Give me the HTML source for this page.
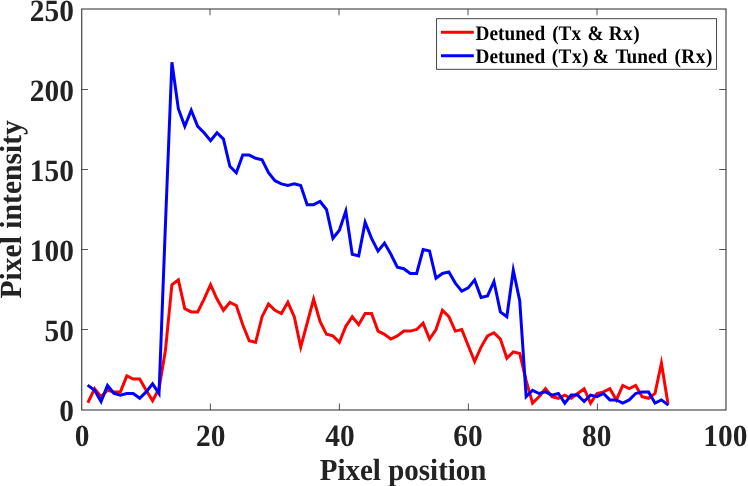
<!DOCTYPE html>
<html><head><meta charset="utf-8"><title>Pixel intensity</title>
<style>
html,body{margin:0;padding:0;background:#fff;}
body{width:748px;height:486px;overflow:hidden;}
svg{display:block;text-rendering:geometricPrecision;font-family:"Liberation Serif",serif;font-weight:bold;}
</style></head><body>
<svg width="748" height="486" viewBox="0 0 748 486">
<rect width="748" height="486" fill="#fff"/>
<g fill="none" stroke-linejoin="miter" stroke-miterlimit="10" stroke-width="3">
<polyline stroke="#ff0000" points="87.87,402.77 94.61,388.70 101.05,396.70 107.49,390.30 113.94,391.90 120.38,391.90 126.82,375.90 133.26,379.10 139.70,379.10 146.14,390.30 152.58,400.70 159.02,388.70 165.46,350.30 171.90,284.70 178.34,279.90 184.79,308.70 191.23,311.90 197.67,311.90 204.11,299.10 210.55,284.70 216.99,299.10 223.43,310.30 229.87,302.30 236.31,305.50 242.75,324.70 249.20,340.70 255.64,342.30 262.08,316.70 268.52,303.90 274.96,310.30 281.40,313.50 287.84,302.30 294.28,316.70 300.72,347.10 307.17,323.10 313.61,299.10 320.05,321.50 326.49,334.30 332.93,335.90 339.37,342.30 345.81,326.30 352.25,316.70 358.69,324.70 365.13,313.50 371.57,313.50 378.02,331.10 384.46,334.30 390.90,339.10 397.34,335.90 403.78,331.10 410.22,331.10 416.66,329.50 423.10,323.10 429.54,339.10 435.99,329.50 442.43,310.30 448.87,316.70 455.31,331.10 461.75,329.50 468.19,345.50 474.63,361.50 481.07,347.10 487.51,335.90 493.95,332.70 500.39,339.10 506.84,358.30 513.28,351.90 519.72,353.50 526.16,380.70 532.60,403.10 539.04,396.70 545.48,388.70 551.92,396.70 558.36,398.30 564.80,395.10 571.25,398.30 577.69,393.50 584.13,388.70 590.57,403.10 597.01,393.50 603.45,391.90 609.89,388.70 616.33,399.90 622.77,385.50 629.22,388.70 635.66,385.50 642.10,396.70 648.54,398.30 654.98,393.50 661.42,363.10 667.97,403.79"/>
<polyline stroke="#0000ff" points="87.61,385.08 94.61,390.30 101.05,401.50 107.49,385.50 113.94,393.50 120.38,395.10 126.82,393.50 133.26,393.50 139.70,398.30 146.14,391.90 152.58,383.90 159.02,393.50 165.46,223.90 171.90,62.30 178.34,108.70 184.79,126.30 191.23,110.30 197.67,126.30 204.11,132.70 210.55,140.70 216.99,132.70 223.43,139.10 229.87,166.30 236.31,172.70 242.75,155.10 249.20,155.10 255.64,158.30 262.08,159.90 268.52,172.70 274.96,180.70 281.40,183.90 287.84,185.50 294.28,183.90 300.72,185.50 307.17,204.70 313.61,204.70 320.05,201.50 326.49,209.50 332.93,238.30 339.37,230.30 345.81,211.10 352.25,254.30 358.69,255.90 365.13,222.30 371.57,238.30 378.02,251.10 384.46,243.10 390.90,254.30 397.34,267.10 403.78,268.70 410.22,273.50 416.66,273.50 423.10,249.50 429.54,251.10 435.99,278.30 442.43,273.50 448.87,271.90 455.31,283.10 461.75,291.10 468.19,287.90 474.63,279.90 481.07,297.50 487.51,295.90 493.95,281.50 500.39,311.90 506.84,316.70 513.28,270.30 519.72,300.70 526.16,396.70 532.60,390.30 539.04,393.50 545.48,391.90 551.92,395.10 558.36,393.50 564.80,403.10 571.25,395.10 577.69,395.10 584.13,401.50 590.57,395.10 597.01,396.70 603.45,393.50 609.89,399.90 616.33,399.90 622.77,403.10 629.22,399.90 635.66,393.50 642.10,391.90 648.54,391.90 654.98,403.10 661.42,399.90 668.42,405.12"/>
</g>
<g fill="none" stroke="#2a2a2a">
<path stroke-width="1.05" stroke-linecap="square" d="M81.75 9.0V410.0M726.0 9.0V410.0M81.75 9.0H726.0M81.75 410.0H726.0"/>
<path stroke-width="0.8" stroke="#2a2a2a" d="M210.40 410.0 v-6.5M210.00 9.0 v6.3M339.40 410.0 v-6.5M339.00 9.0 v6.3M468.40 410.0 v-6.5M468.00 9.0 v6.3M597.40 410.0 v-6.5M597.00 9.0 v6.3M81.6 329.50 h6.4M726.0 329.50 h-6.8M81.6 249.50 h6.4M726.0 249.50 h-6.8M81.6 169.50 h6.4M726.0 169.50 h-6.8M81.6 89.50 h6.4M726.0 89.50 h-6.8"/>
</g>
<g font-size="29.4px" fill="#222">
<text transform="translate(82.00 445.5) scale(1 1.055)" text-anchor="middle">0</text><text transform="translate(210.70 445.5) scale(1 1.055)" text-anchor="middle">20</text><text transform="translate(339.90 445.5) scale(1 1.055)" text-anchor="middle">40</text><text transform="translate(468.00 445.5) scale(1 1.055)" text-anchor="middle">60</text><text transform="translate(596.80 445.5) scale(1 1.055)" text-anchor="middle">80</text><text transform="translate(725.40 445.5) scale(1 1.055)" text-anchor="middle">100</text>
<text transform="translate(73.9 421.20) scale(1 1.055)" text-anchor="end">0</text><text transform="translate(73.9 341.20) scale(1 1.055)" text-anchor="end">50</text><text transform="translate(73.9 261.20) scale(1 1.055)" text-anchor="end">100</text><text transform="translate(73.9 181.20) scale(1 1.055)" text-anchor="end">150</text><text transform="translate(73.9 101.20) scale(1 1.055)" text-anchor="end">200</text><text transform="translate(73.9 21.20) scale(1 1.055)" text-anchor="end">250</text>
</g>
<g font-size="29px" fill="#222">
<text transform="translate(403.1 480.2) scale(1 1.06)" text-anchor="middle">Pixel position</text>
<text transform="translate(20.9 209.3) rotate(-90) scale(1 1.04)" text-anchor="middle" font-size="29.6px">Pixel intensity</text>
</g>
<rect x="436.6" y="18.7" width="280.0" height="50.6" fill="#fff" stroke="#333" stroke-width="0.9"/>
<path d="M441 32.3 H473.8" stroke="#ff0000" stroke-width="3"/>
<path d="M441 55.8 H473.8" stroke="#0000ff" stroke-width="3"/>
<g font-size="19.3px" fill="#000">
<text transform="translate(0 39.9) scale(1 1.07)"><tspan x="475.5">Detuned</tspan> <tspan x="552.2">(Tx</tspan> <tspan x="587.5">&amp;</tspan> <tspan x="608.8" letter-spacing="0.4">Rx)</tspan></text>
<text transform="translate(0 63.3) scale(1 1.07)"><tspan x="475.5">Detuned</tspan> <tspan x="551.7" letter-spacing="0.5">(Tx)</tspan> <tspan x="592.7">&amp;</tspan> <tspan x="615.5">Tuned</tspan> <tspan x="674.4" letter-spacing="0.5">(Rx)</tspan></text>
</g>
</svg>
</body></html>
